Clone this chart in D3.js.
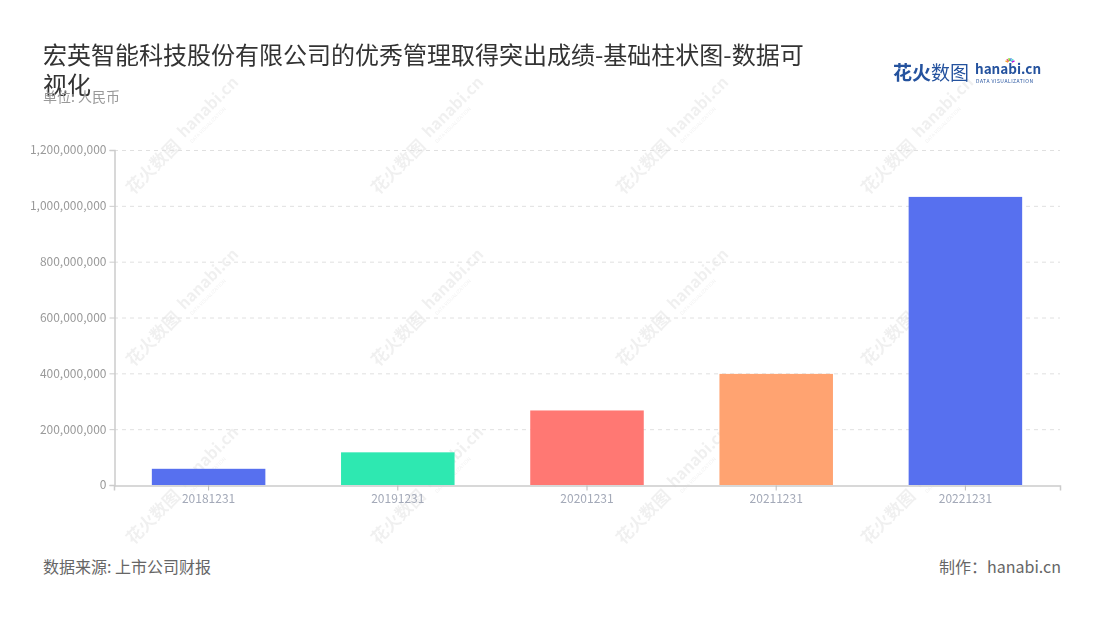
<!DOCTYPE html>
<html><head><meta charset="utf-8">
<script src="https://cdn.jsdelivr.net/npm/d3@7"></script>
<style>
html,body{margin:0;padding:0;background:#fff;}
text{font-family:"Noto Sans CJK SC","Noto Sans",sans-serif;}
</style></head>
<body><svg id="c" width="1100" height="620"></svg>
<script>
const titleText = "宏英智能科技股份有限公司的优秀管理取得突出成绩-基础柱状图-数据可视化";
const unitText = "单位: 人民币";
const sourceText = "数据来源: 上市公司财报";
const makerText = "制作：hanabi.cn";
const categories = ["20181231","20191231","20201231","20211231","20221231"];
const values = [58000000,117000000,267000000,398000000,1032000000];
const colors = ["#5770ef","#2ee8b1","#ff7873","#ffa371","#5770ef"];
const yTicks = [0,200000000,400000000,600000000,800000000,1000000000,1200000000];

const svg = d3.select("#c");
const m = {left:114, right:1060, top:150, bottom:485};

// watermarks
const wmX = [180,425,670,915], wmY = [140,312,490];
const wm = svg.append("g").attr("opacity",0.06);
wmX.forEach(x=>wmY.forEach(y=>{
  const g = wm.append("g").attr("transform",`translate(${x},${y}) rotate(-45)`);
  g.append("text").attr("x",-4).attr("y",6).attr("text-anchor","end")
    .attr("font-size",17).attr("font-weight",700).attr("fill","#000").text("花火数图");
  g.append("text").attr("x",4).attr("y",2).attr("text-anchor","start")
    .attr("font-size",16).attr("font-weight",700).attr("fill","#000").text("hanabi.cn");
  g.append("text").attr("x",6).attr("y",11).attr("text-anchor","start")
    .attr("font-size",5).attr("fill","#000").text("DATA VISUALIZATION");
}));

// title with wrap
const tEl = svg.append("text").attr("x",43).attr("y",64).attr("font-size",24).attr("fill","#333");
(function(){
  const maxW = 762; let line = "", lines = [];
  const probe = tEl.append("tspan");
  for (const ch of titleText) {
    probe.text(line + ch);
    if (probe.node().getComputedTextLength() > maxW && line) { lines.push(line); line = ch; }
    else line += ch;
  }
  lines.push(line); probe.remove();
  lines.forEach((l,i)=>tEl.append("tspan").attr("x",43).attr("dy",i?30:0).text(l));
})();
svg.append("text").attr("x",43).attr("y",102).attr("font-size",14).attr("fill","#999").text(unitText);

// logo
const logo = svg.append("g").attr("transform","translate(893,80)");
logo.append("text").attr("x",0).attr("y",0).attr("font-size",19).attr("font-weight",700).attr("fill","#24529e").text("花火");
logo.append("text").attr("x",38).attr("y",0).attr("font-size",19).attr("fill","#24529e").text("数图");
logo.append("text").attr("x",82).attr("y",-6).attr("font-size",13.5).attr("font-weight",700).attr("fill","#24529e")
  .attr("font-family","Lato, sans-serif").text("hanabi.cn");
logo.append("text").attr("x",83).attr("y",3).attr("font-size",5).attr("fill","#24529e").attr("letter-spacing",0.5).text("DATA VISUALIZATION");
const sparkC = ["#f5a623","#e94e77","#7ed321","#4a90e2","#50e3c2","#bd10e0"];
sparkC.forEach((c,i)=>{
  const a = -Math.PI/2 + (i-2.5)*0.45;
  logo.append("line").attr("x1",117+Math.cos(a)*2).attr("y1",-17+Math.sin(a)*2)
    .attr("x2",117+Math.cos(a)*5).attr("y2",-17+Math.sin(a)*5).attr("stroke",c).attr("stroke-width",1.4);
});

// scales
const x = d3.scaleBand().domain(categories).range([m.left,m.right]).paddingInner(0.4).paddingOuter(0.2);
const y = d3.scaleLinear().domain([0,1200000000]).range([m.bottom,m.top]);

// grid
svg.append("g").selectAll("line").data(yTicks.filter(d=>d>0)).join("line")
  .attr("x1",m.left).attr("x2",m.right).attr("y1",d=>y(d)+0.5).attr("y2",d=>y(d)+0.5)
  .attr("stroke","#e0e0e0").attr("stroke-dasharray","4,4");

// bars
svg.append("g").selectAll("rect").data(values).join("rect")
  .attr("x",(d,i)=>x(categories[i])).attr("width",x.bandwidth())
  .attr("y",d=>y(d)).attr("height",d=>m.bottom-y(d))
  .attr("fill",(d,i)=>colors[i]);

// y axis
const ya = svg.append("g").attr("transform",`translate(${m.left+0.5},0)`)
  .call(d3.axisLeft(y).tickValues(yTicks).tickSize(5).tickPadding(3).tickFormat(d3.format(",")));
ya.select(".domain").attr("stroke","#ccc").attr("stroke-width",1.5);
ya.selectAll(".tick line").attr("stroke","#ccc");
ya.selectAll(".tick text").attr("fill","#999").attr("font-size",12).attr("font-family","Noto Sans, sans-serif");

// x axis
const xa = svg.append("g").attr("transform",`translate(0,${m.bottom+0.5})`)
  .call(d3.axisBottom(x).tickSize(5).tickPadding(4));
xa.select(".domain").attr("stroke","#ccc").attr("stroke-width",1.5);
xa.selectAll(".tick line").attr("stroke","#bbb");
xa.selectAll(".tick text").attr("fill","#a3a9b8").attr("font-size",12).attr("font-family","Noto Sans, sans-serif");

// footer
svg.append("text").attr("x",43).attr("y",573).attr("font-size",16).attr("fill","#666").text(sourceText);
svg.append("text").attr("x",1061).attr("y",573).attr("text-anchor","end").attr("font-size",16).attr("fill","#666").text(makerText);
</script></body></html>
